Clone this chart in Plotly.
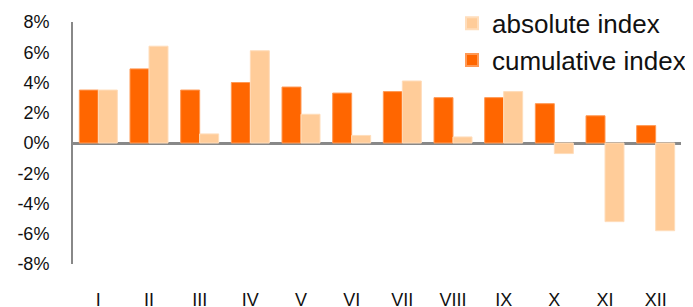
import plotly.graph_objects as go

months = ["I", "II", "III", "IV", "V", "VI", "VII", "VIII", "IX", "X", "XI", "XII"]
cumulative = [3.5, 4.9, 3.5, 4.0, 3.7, 3.3, 3.4, 3.0, 3.0, 2.6, 1.8, 1.15]
absolute = [3.5, 6.4, 0.6, 6.1, 1.9, 0.5, 4.1, 0.4, 3.4, -0.7, -5.2, -5.8]
y_ticks = [-8, -6, -4, -2, 0, 2, 4, 6, 8]
y_labels = [f"{v}%" for v in y_ticks]

fig = go.Figure()
fig.add_trace(go.Bar(x=months, y=cumulative, name="cumulative index",
                     marker=dict(color="#FF6600", line=dict(color="#FF9955", width=1))))
fig.add_trace(go.Bar(x=months, y=absolute, name="absolute index",
                     marker=dict(color="#FFCC99", line=dict(color="#FFDDBB", width=1))))

# page body has an 8px default margin, so the figure is offset by 8px
fig.update_layout(
    width=685, height=299,
    margin=dict(l=65, r=12, t=14, b=43, autoexpand=False),
    paper_bgcolor="white", plot_bgcolor="white",
    barmode="group", bargap=0.25, bargroupgap=0,
    font=dict(family="Liberation Sans, Arial, sans-serif", color="#111"),
    legend=dict(traceorder="reversed", x=444/685, xref="container", xanchor="left",
                y=1.092, yref="paper", yanchor="top",
                font=dict(size=26, color="#111"), bgcolor="rgba(0,0,0,0)",
                itemsizing="constant"),
    xaxis=dict(showline=False, showgrid=False, ticks="", ticklabelstandoff=23,
               tickfont=dict(size=18), range=[-0.5, 11.5]),
    yaxis=dict(range=[-8, 8], tickvals=y_ticks, ticktext=y_labels, showgrid=False,
               showline=True, linecolor="#888", linewidth=2, ticks="",
               zeroline=True, zerolinecolor="#888", zerolinewidth=2.5,
               tickfont=dict(size=18), ticklabelstandoff=18),
)
fig.write_html("out.html")
